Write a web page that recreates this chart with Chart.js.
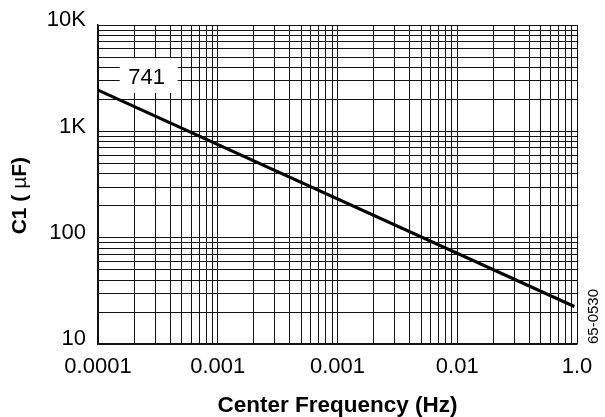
<!DOCTYPE html>
<html><head><meta charset="utf-8">
<script src="https://cdn.jsdelivr.net/npm/chart.js@4/dist/chart.umd.min.js"></script>
<style>html,body{margin:0;padding:0;background:#fff;}#wrap{width:605px;height:417px;position:relative;}</style>
</head><body><div id="wrap"><canvas id="c" width="605" height="417"></canvas></div>
<script>
// ---- data ----
const frequencyHz = [0.0001, 0.95];
const capacitanceUF = [2450, 22.5];
const xTickValues = [0.0001, 0.001, 0.01, 0.1, 1];
const xTickLabels = ['0.0001', '0.001', '0.001', '0.01', '1.0'];
const yTickValues = [10, 100, 1000, 10000];
const yTickLabels = ['10', '100', '1K', '10K'];
const curveLabel = '741';
const curveLabelAt = [2.65e-4, 3365];
const xTitle = 'Center Frequency (Hz)';
const yTitleParts = [['C1 ( ', 'bold'], ['µ', 'normal'], ['F)', 'bold']];
const figureCode = '65-0530';

const FAMILY = "'Liberation Sans', Arial, Helvetica, sans-serif";

// log grid: 1..9 x 10^e within [min,max]
function logGrid(min, max) {
  const out = [];
  for (let e = Math.floor(Math.log10(min)); e <= Math.ceil(Math.log10(max)); e++) {
    for (let m = 1; m <= 9; m++) {
      const v = m * Math.pow(10, e);
      if (v >= min * 0.999999 && v <= max * 1.000001) out.push(v);
    }
  }
  return out;
}
function labelFor(values, labels, v) {
  const i = values.findIndex(t => Math.abs(Math.log10(t) - Math.log10(v)) < 1e-6);
  return i >= 0 ? labels[i] : '';
}

const annotate = {
  id: 'annotate',
  beforeDatasetsDraw(chart) {
    const {ctx, scales: {x, y}} = chart;
    const cx = x.getPixelForValue(curveLabelAt[0]);
    const cy = y.getPixelForValue(curveLabelAt[1]);
    ctx.save();
    ctx.fillStyle = '#fff';
    ctx.fillRect(cx - 29, cy - 17.5, 58, 35);
    ctx.fillStyle = '#000';
    ctx.font = '22px ' + FAMILY;
    ctx.textAlign = 'center';
    ctx.textBaseline = 'middle';
    ctx.fillText(curveLabel, cx - 2, cy + 2);
    ctx.restore();
  },
  afterDraw(chart) {
    const {ctx, chartArea} = chart;
    ctx.save();
    ctx.translate(chartArea.right + 17, chartArea.bottom);
    ctx.rotate(-Math.PI / 2);
    ctx.fillStyle = '#000';
    ctx.font = '15px ' + FAMILY;
    ctx.textAlign = 'left';
    ctx.textBaseline = 'middle';
    ctx.fillText(figureCode, 0, 0);
    ctx.restore();

    // vertical axis title (mixed weight, as in the reference)
    ctx.save();
    ctx.translate(20, (chartArea.top + chartArea.bottom) / 2 + 11);
    ctx.rotate(-Math.PI / 2);
    ctx.fillStyle = '#000';
    ctx.textBaseline = 'middle';
    ctx.textAlign = 'left';
    let total = 0;
    const widths = yTitleParts.map(([t, w]) => {
      ctx.font = w + ' 21px ' + FAMILY;
      const m = ctx.measureText(t).width;
      total += m;
      return m;
    });
    let px = -total / 2;
    yTitleParts.forEach(([t, w], i) => {
      ctx.font = w + ' 21px ' + FAMILY;
      ctx.fillText(t, px, 0);
      px += widths[i];
    });
    ctx.restore();
  }
};

new Chart(document.getElementById('c'), {
  type: 'line',
  data: {
    datasets: [{
      data: frequencyHz.map((f, i) => ({x: f, y: capacitanceUF[i]})),
      borderColor: '#000',
      borderWidth: 3.2,
      pointRadius: 0,
      fill: false,
      tension: 0
    }]
  },
  options: {
    responsive: false,
    animation: false,
    layout: {padding: {top: 24, right: 28, left: 0, bottom: 0}},
    plugins: {legend: {display: false}, tooltip: {enabled: false}},
    scales: {
      x: {
        type: 'logarithmic',
        min: xTickValues[0],
        max: xTickValues[xTickValues.length - 1],
        afterBuildTicks: s => { s.ticks = logGrid(s.min, s.max).map(v => ({value: v})); },
        afterFit: s => { s.height = 73; },
        grid: {color: '#111', lineWidth: 1, drawTicks: false},
        border: {color: '#111', width: 1.5},
        ticks: {
          autoSkip: false, maxRotation: 0, minRotation: 0, padding: 10, color: '#000',
          font: {family: FAMILY, size: 22},
          callback: v => labelFor(xTickValues, xTickLabels, v)
        },
        title: {display: true, text: xTitle, color: '#000', padding: 0,
          font: {family: FAMILY, size: 22.5, weight: 'bold', lineHeight: 1}}
      },
      y: {
        type: 'logarithmic',
        min: yTickValues[0],
        max: yTickValues[yTickValues.length - 1],
        afterBuildTicks: s => { s.ticks = logGrid(s.min, s.max).map(v => ({value: v})); },
        afterFit: s => { s.width = 98; },
        grid: {color: '#111', lineWidth: 1, drawTicks: false},
        border: {color: '#111', width: 1.5},
        ticks: {
          autoSkip: false, padding: 12, color: '#000', labelOffset: -5,
          font: {family: FAMILY, size: 22},
          callback: v => labelFor(yTickValues, yTickLabels, v)
        }
      }
    }
  },
  plugins: [annotate]
});
</script>
</body></html>
